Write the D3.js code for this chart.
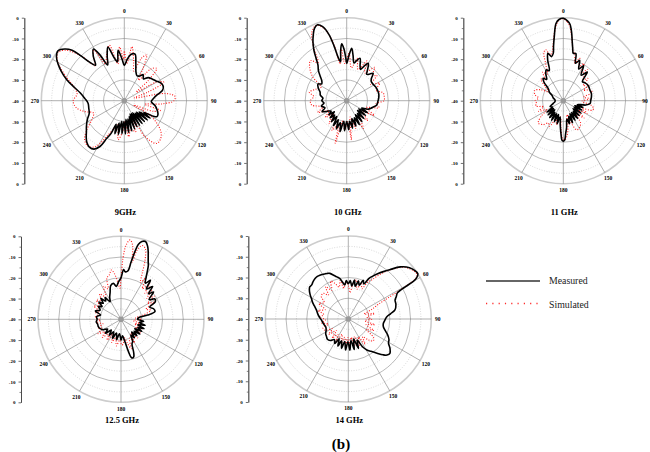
<!DOCTYPE html>
<html>
<head>
<meta charset="utf-8">
<script src="https://cdn.jsdelivr.net/npm/d3@7"></script>
<style>
body { margin: 0; background: #fff; }
text { font-family: "Liberation Serif", "Times New Roman", serif; }
</style>
</head>
<body>
<svg id="chart" width="650" height="452"></svg>
<script>
// tick labels
var angleLabels = ["0", "30", "60", "90", "120", "150", "180", "210", "240", "270", "300", "330"];
var radialLabels = ["0", "-10", "-20", "-30", "-40", "-30", "-20", "-10", "0"];
var titles = ["9GHz", "10 GHz", "11 GHz", "12.5 GHz", "14 GHz"];
var legendNames = ["Measured", "Simulated"];

// [angle in degrees, gain in dB]
var meas9 = [[0,-23],[4,-20],[8,-17.5],[13,-17],[17,-21],[22,-25],[27,-26.5],[32,-26],[36,-24.5],[41,-26],[46,-24],[52,-23],[58,-22],[64,-20.5],[70,-20],[75,-21],[80,-24],[86,-26],[92,-27],[99,-25],[106,-23.5],[112,-22.5],[116,-22.5],
  [118,-24],[121,-29],[124,-25],[127,-31],[130,-25.5],[133,-32],[136,-26],[139,-32],[142,-26],[145,-33],[148,-26],[151,-33],[154,-26],[157,-33],[160,-25.5],[163,-32],[166,-25],[169,-31],[172,-24.5],[175,-31],[178,-24],[181,-30],[184,-24],[187,-30],[190,-23.5],[193,-29],[196,-23.5],[199,-28],[202,-23],
  [205,-20],[208,-15],[212,-12.5],[217,-12],[222,-13],[226,-14.5],[231,-16.5],[236,-18],[243,-20],[250,-22],[258,-22.5],[266,-22.5],[273,-21],[280,-18.5],[285,-15],[290,-10.5],[295,-6.5],[299,-3.5],[303,-1],[307,0],[311,-2],[314,-5],[316,-10],[318,-15],[321,-18],[325,-14],[329,-11],[332,-15],[335,-21],[339,-17],[343,-13],[347,-19],[350,-21],[353,-15.5],[357,-20]];
var sim9 = [[0,-16],[4,-22],[8,-13.7],[13,-20],[18,-25],[22,-18],[26,-15.5],[30,-22],[35,-28],[40,-20],[45,-18],[50,-25],[55,-33],[60,-22],[65,-19],[70,-28],[75,-35],[80,-20],[85,-15.5],[90,-16],[95,-22],[100,-30],[105,-22],[110,-25],[115,-35],[120,-25],[130,-17],[137,-14.5],[143,-14.2],[150,-20],[155,-30],[160,-24],[167,-26],[173,-22.5],[178,-30],[183,-25],[189,-21],[195,-28],[200,-26],[205,-22],[212,-14],[218,-12],[225,-13],[232,-17],[240,-22],[248,-24],[255,-20],[262,-16.5],[270,-15.4],[278,-17],[285,-15],[292,-10],[300,-3],[306,-0.5],[311,-3],[316,-10],[320,-18],[325,-14],[329,-11.5],[333,-20],[338,-17],[345,-12.3],[350,-22],[355,-14],[359,-20]];

var meas10 = [[0,-22],[3,-18],[5.5,-14.6],[8,-18],[11,-21.5],[14,-20],[17.5,-18.6],[21,-22],[24,-23.5],[27,-21],[30,-19.2],[34,-22],[37,-24],[41,-23],[44,-21.6],[48,-24],[52,-25],[58,-25],[65,-24.5],[72,-24.3],[78,-24.2],[85,-24.5],[92,-25],[98,-25.4],[104,-27],[108,-28],
  [112,-29],[116,-32],[120,-28.5],[124,-33],[128,-28.5],[132,-33],[136,-28],[140,-32],[144,-27.5],[148,-32],[152,-27],[156,-31],[160,-27],[164,-31],[168,-26.5],[172,-30],[176,-26],[180,-30],[184,-25.5],[188,-30],[192,-24.7],[196,-29],[200,-25.5],[204,-30],[208,-26.5],[212,-31],[216,-27.5],[220,-31],[224,-28.5],[228,-32],[232,-29],[236,-31],[240,-30],
  [246,-27],[252,-29],[258,-27.5],[264,-29],[270,-28],[276,-28.5],[282,-27],[288,-26.5],[294,-25],[300,-24],[304,-25.5],[309,-24.5],[313,-22.5],[317,-20],[321,-18],[324,-15],[327,-11],[330,-7.5],[333,-4.5],[336,-1.8],[339,-0.8],[342,-2.5],[345,-7],[347,-13],[349,-19],[351,-21],[353,-16],[355,-12.5],[357,-15],[359,-20]];
var sim10 = [[0,-20],[3,-17],[8,-24],[14,-19],[20,-24],[27,-18.5],[33,-24],[40,-19],[46,-23],[50,-21],[56,-26],[62,-22],[70,-25],[78,-22],[84,-21.8],[90,-22],[96,-26],[102,-24],[110,-30],[118,-25],[126,-31],[133,-26],[140,-30],[149,-24.4],[155,-30],[162,-26],[168,-32],[173,-21],[178,-30],[184,-26],[190,-30],[195,-18.7],[200,-28],[206,-24],[212,-30],[218,-26],[225,-31],[232,-27],[240,-30],[248,-25],[255,-28],[263,-23],[270,-22.5],[277,-24],[283,-21.5],[290,-24],[298,-26],[305,-20],[312,-16],[318,-14],[323,-17],[328,-10],[333,-3],[338,-0.8],[343,-4],[347,-12],[350,-22],[354,-15],[357,-22]];

var meas11 = [[0,-0.3],[3,-1.5],[5,-3],[7,-7],[8.5,-11],[10,-14],[12,-16.7],[15,-16.5],[18,-21],[22,-19],[26,-23],[30,-20.5],[35,-25],[40,-22],[45,-27],[50,-26.5],[56,-26],[62,-26],[68,-26.2],[75,-26],[82,-26.3],[90,-26.8],[96,-27],[101,-29],[105,-33],
  [109,-30],[113,-34],[117,-30],[121,-34],[125,-29.5],[129,-34],[133,-29.5],[137,-33],[141,-29],[145,-33],[149,-29],[153,-33],[157,-28.5],[161,-32],[165,-28.5],[169,-31],[173,-27],[176,-24],[178,-21],[180,-20.5],[182,-21],[184,-24],[187,-28],[191,-32],[195,-28.5],[199,-33],[203,-29],[207,-33],[211,-29],[215,-33],[219,-29.5],[223,-34],[227,-30],[231,-34],[235,-30.5],[240,-34],
  [246,-33],[255,-35],[265,-36],[275,-36],[285,-35],[295,-34],[302,-32],[308,-31],[314,-27],[318,-25.5],[322,-27],[327,-24.5],[331,-23],[335,-24],[339,-19],[342,-16],[345,-18],[348,-16.7],[350,-13],[352,-8.8],[354.6,-2.6],[357,-0.8]];
var sim11 = [[0,-0.5],[3,-2],[5,-4],[7,-8],[9,-12],[11,-15.5],[14,-17],[17,-21],[21,-18],[25,-22],[29,-19.5],[33,-24],[38,-21],[43,-26],[48,-24],[53,-28],[58,-25.5],[63,-29],[68,-26],[74,-25.5],[80,-30],[86,-27],[92,-31],[99,-26.5],[104,-25],[108,-25.2],[113,-30],[118,-27],[124,-32],[130,-27],[136,-31],[142,-26.5],[148,-25],[155,-24.5],[160,-28],[165,-33],[170,-27],[174,-23],[178,-21],[181,-21.5],[185,-27],[190,-32],[196,-28],[202,-31],[208,-26],[214,-27],[220,-25],[228,-23.8],[235,-27],[241,-31],[247,-27],[253,-30],[259,-26.5],[265,-27],[270,-26.4],[276,-28],[282,-26],[290,-25.4],[296,-28],[302,-32],[308,-29],[314,-25],[319,-27],[324,-23],[329,-25],[334,-21],[338,-15],[341,-14],[344,-17],[347,-16],[350,-12],[352,-8],[355,-3],[357,-1]];

var meas125 = [[0,-20],[3,-16],[5,-17],[8,-16.5],[10,-12],[11.5,-7],[13,-3],[15,-1.2],[17.5,-0.7],[20,-2.5],[22,-5],[25,-9],[27,-11],[29,-14],[31,-16.5],[34,-19],[37,-16.4],[40,-21],[44,-18],[47,-22],[50,-19.5],[55,-23.5],[59,-21],[63,-21.5],[67,-25],[72,-23.5],[77,-23.2],[81,-27],[85,-31.5],[90,-32],[95,-29],
  [100,-31],[104,-28],[108,-31.5],[112,-28],[116,-31],[120,-28.5],[124,-32],[128,-28.5],[132,-31.5],[136,-29],[140,-32],[144,-29],[148,-31],[152,-28],[156,-27],[159,-23],[161,-21],[163,-20.5],[165,-21],[167,-24],[170,-29],[175,-32],[180,-30],[186,-33],[192,-30],[198,-33],[204,-30],[210,-33],[216,-30.5],[222,-33],[228,-30],[234,-32],[240,-30],
  [246,-29],[252,-28.5],[258,-28.5],[264,-28],[270,-28.5],[276,-28.2],[282,-30],[288,-27],[294,-29],[300,-27.5],[304,-29],[308,-26.5],[312,-28.5],[316,-26],[320,-28.5],[324,-27],[328,-30],[333,-28],[338,-26],[343,-23],[348,-22.3],[352,-24],[356,-22]];
var sim125 = [[0,-20],[2,-10],[4,-4],[6.5,-1.5],[9,-4],[11,-12],[13,-6],[16,-3],[19,-4],[22,-9],[25,-16],[28,-20],[31,-17],[35,-22],[39,-18],[43,-23],[47,-19.5],[51,-24],[55,-20.5],[59,-25],[63,-22],[68,-27],[73,-25],[79,-29],[85,-33],[90,-30],[96,-34],[102,-30],[108,-33],[114,-29],[120,-32],[126,-28.5],[132,-31],[138,-28],[144,-32],[150,-27],[156,-30],[161,-25],[165,-28],[170,-31],[175,-28],[178.5,-27.6],[183,-30],[190,-27],[196,-31],[202,-28],[208,-32],[214,-28],[220,-31],[226,-27.5],[232,-30],[238,-27],[244,-30],[250,-28],[256,-31],[262,-28],[268,-30],[274,-27.5],[280,-28.5],[285,-27.5],[290,-29],[296,-25.5],[302,-28],[308,-25],[314,-27],[320,-24],[326,-27],[332,-22],[337,-24],[341,-19],[345,-18],[349,-15.8],[352,-18],[355,-22],[358,-25]];

var meas14 = [[0,-23],[3,-21.5],[6,-24],[9,-21],[12,-24],[15,-21],[18,-23],[21,-20],[24,-21.5],[27,-18],[30,-16],[33,-14],[36.5,-11.6],[40,-9],[45,-4.5],[50,-1.5],[54,-0.3],[57,0],[59,-1.7],[60,-4],[60.5,-8],[61,-11],[62,-13.2],[65,-14.5],[68,-15.7],[73,-16],[79,-17.1],[83,-19.5],[87,-21.5],[93,-22.5],[98,-23],[102.4,-22.7],[107,-21.5],[112,-19.5],[117,-18],[121,-17.4],[125,-15.5],[129.5,-14],[133,-14.5],[136,-16],[140,-18.5],[145,-21],[149,-22.6],
  [153,-25],[157,-29],[161,-25],[165,-30],[169,-25],[173,-29.5],[177,-25],[181,-29],[185,-25],[189,-29],[193,-25.5],[197,-29],[201,-26],[205,-29.5],[209,-26.5],[214,-28],
  [220,-26.5],[226,-26],[231,-26.5],[237,-27],[243,-28],[250,-28.5],[257,-28],[263,-27.5],[268,-27],[274,-26],[280,-25],[286,-24],[291,-22.5],[295,-21],[299,-19.7],[303,-18],[307,-16.5],[310,-15.8],[313,-15.9],[317,-15.2],[321,-14.7],[324,-14.6],[327,-14.8],[331,-15.3],[335,-15.8],[338,-16.3],[342,-18],[345,-19],[348,-20],[351,-22],[354,-23.5],[357,-21.5]];
var sim14 = [[0,-24],[4,-27],[8,-22],[12,-20.8],[16,-25],[20,-21],[24,-24],[28,-19.5],[31,-18],[34,-15],[38,-11],[42,-7.5],[46,-4],[50,-2],[54,-0.8],[57,-0.5],[59,-2],[60,-6],[61,-12],[62,-18],[64,-24],[68,-28],[73,-32],[78,-27],[84,-31],[90,-28.7],[96,-32],[102,-27],[108,-31],[114,-26.5],[120,-30],[126,-25],[131,-24],[136,-26],[141,-29],[146,-25.5],[151,-30],[156,-26],[161,-31],[166,-27],[171,-31],[176,-27],[181,-31],[186,-27.5],[191,-31],[196,-28],[202,-32],[208,-27],[214,-31],[220,-28],[226,-32],[232,-28],[238,-31],[244,-27.5],[250,-27],[256,-30],[262,-27],[268,-29],[274,-26],[280,-28],[286,-25],[292,-28],[298,-24],[304,-26],[310,-23],[315.8,-22.7],[320,-25],[325,-21],[330,-24],[335,-20],[339.5,-21.7],[344,-24],[348,-21],[352,-25],[356,-22]];

// panel placement
var panels = [
    { title: titles[0], cx: 124.3, cy: 100.7, ty: 214.5, meas: meas9, sim: sim9 },
    { title: titles[1], cx: 346.7, cy: 100.7, ty: 214.5, meas: meas10, sim: sim10 },
    { title: titles[2], cx: 563.3, cy: 100.7, ty: 214.5, meas: meas11, sim: sim11 },
    { title: titles[3], cx: 121, cy: 319.3, ty: 423, meas: meas125, sim: sim125 },
    { title: titles[4], cx: 348.3, cy: 319, ty: 423, meas: meas14, sim: sim14 },
];

var svg = d3.select("#chart"),
    R = 83;

svg.append("rect").attr("width", 650).attr("height", 452).attr("fill", "#fff");

// dB -> radius
var r = d3.scaleLinear().domain([-40, 0]).range([0, R]).clamp(true);

var line = d3
    .lineRadial()
    .angle(function (d) {
        return (d[0] * Math.PI) / 180;
    })
    .radius(function (d) {
        return r(d[1]);
    })
    .curve(d3.curveCatmullRomClosed.alpha(0.5));

panels.forEach(function (p) {
    var g = svg
        .append("g")
        .attr("transform", "translate(" + p.cx + "," + p.cy + ")");

    // dotted minor rings
    g.selectAll(".minor")
        .data([-35, -25, -15, -5])
        .enter()
        .append("circle")
        .attr("r", function (d) {
            return r(d);
        })
        .attr("fill", "none")
        .attr("stroke", "#b0b0b0")
        .attr("stroke-width", 0.5)
        .attr("stroke-dasharray", "1,1.5");

    // solid major rings
    g.selectAll(".major")
        .data([-30, -20, -10])
        .enter()
        .append("circle")
        .attr("r", function (d) {
            return r(d);
        })
        .attr("fill", "none")
        .attr("stroke", "#8c8c8c")
        .attr("stroke-width", 0.6);

    // outer ring
    g.append("circle")
        .attr("r", R)
        .attr("fill", "none")
        .attr("stroke", "#cdcdcd")
        .attr("stroke-width", 1.6);

    // spokes every 30 degrees
    g.selectAll(".spoke")
        .data(angleLabels)
        .enter()
        .append("line")
        .attr("x1", 0)
        .attr("y1", 0)
        .attr("x2", function (d, i) {
            return R * Math.sin((i * 30 * Math.PI) / 180);
        })
        .attr("y2", function (d, i) {
            return -R * Math.cos((i * 30 * Math.PI) / 180);
        })
        .attr("stroke", "#7a7a7a")
        .attr("stroke-width", 0.6);

    // angle labels, kept inside the page
    g.selectAll(".alab")
        .data(angleLabels)
        .enter()
        .append("text")
        .attr("x", function (d, i) {
            var x = (R + 6.5) * Math.sin((i * 30 * Math.PI) / 180);
            return Math.min(x, 645 - p.cx);
        })
        .attr("y", function (d, i) {
            return -(R + 6.5) * Math.cos((i * 30 * Math.PI) / 180) + 1.9;
        })
        .attr("text-anchor", "middle")
        .attr("font-size", 5.5)
        .attr("font-weight", "bold")
        .text(function (d) {
            return d;
        });

    // simulated (red dotted) and measured (black)
    g.append("path")
        .attr("d", line(p.sim))
        .attr("fill", "none")
        .attr("stroke", "#ff1a1a")
        .attr("stroke-width", 1.1)
        .attr("stroke-dasharray", "1,1.6");

    g.append("path")
        .attr("d", line(p.meas))
        .attr("fill", "none")
        .attr("stroke", "#000")
        .attr("stroke-width", 1.6)
        .attr("stroke-linejoin", "round");

    g.append("circle").attr("r", 2.8).attr("fill", "#9a9a9a");

    // left dB axis
    var y = d3
        .scaleLinear()
        .domain([0, 8])
        .range([p.cy - R, p.cy + R]);

    var ax = svg
        .append("g")
        .attr("transform", "translate(" + (p.cx - 100) + ",0)")
        .call(
            d3
                .axisLeft(y)
                .tickValues(d3.range(9))
                .tickFormat(function (i) {
                    return radialLabels[i];
                })
                .tickSize(2.5)
                .tickSizeOuter(0)
                .tickPadding(3)
        );
    ax.selectAll("text")
        .attr("font-size", 5)
        .attr("font-weight", "bold")
        .attr("font-family", "Liberation Serif, serif");
    ax.selectAll("line,path").attr("stroke", "#333").attr("stroke-width", 0.7);

    svg.append("g")
        .attr("transform", "translate(" + (p.cx - 100) + ",0)")
        .call(
            d3
                .axisLeft(y)
                .tickValues(d3.range(0.5, 8, 1))
                .tickFormat("")
                .tickSize(1.5)
                .tickSizeOuter(0)
        )
        .selectAll("line,path")
        .attr("stroke", "#333")
        .attr("stroke-width", 0.6);

    // title
    svg.append("text")
        .attr("x", p.cx + 1)
        .attr("y", p.ty)
        .attr("text-anchor", "middle")
        .attr("font-size", 8.5)
        .attr("font-weight", "bold")
        .text(p.title);
});

// legend
var legend = svg.append("g");
legend
    .append("line")
    .attr("x1", 486)
    .attr("x2", 540)
    .attr("y1", 281)
    .attr("y2", 281)
    .attr("stroke", "#333")
    .attr("stroke-width", 1.3);
legend
    .append("line")
    .attr("x1", 486)
    .attr("x2", 538)
    .attr("y1", 303.5)
    .attr("y2", 303.5)
    .attr("stroke", "#ff2a2a")
    .attr("stroke-width", 1.3)
    .attr("stroke-dasharray", "1.2,5.1");
legend
    .selectAll(".ltxt")
    .data(legendNames)
    .enter()
    .append("text")
    .attr("x", 549)
    .attr("y", function (d, i) {
        return 284 + i * 23.5;
    })
    .attr("font-size", 9.8)
    .attr("fill", "#222")
    .text(function (d) {
        return d;
    });

svg.append("text")
    .attr("x", 341)
    .attr("y", 449)
    .attr("text-anchor", "middle")
    .attr("font-size", 15)
    .attr("font-weight", "bold")
    .text("(b)");
</script>
</body>
</html>
